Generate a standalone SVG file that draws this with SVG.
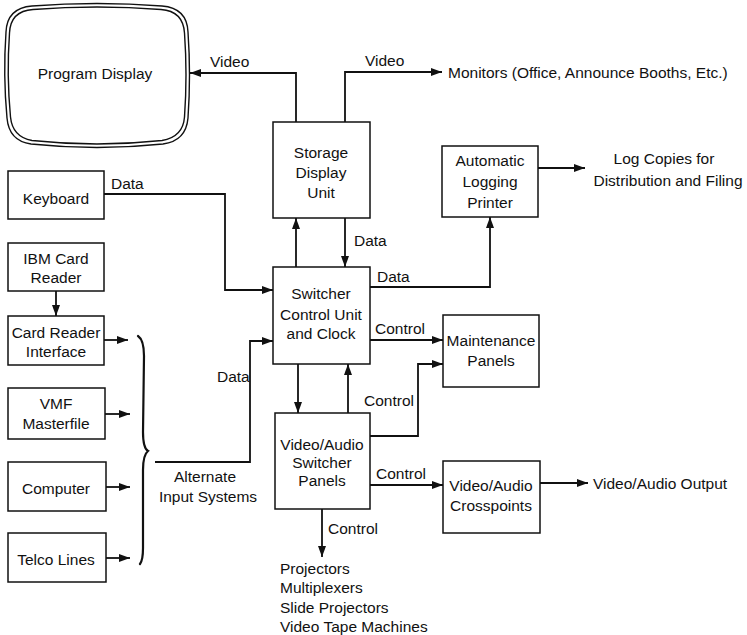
<svg xmlns="http://www.w3.org/2000/svg" width="747" height="635" viewBox="0 0 747 635">
<defs>
<style>
text{font-family:"Liberation Sans",Arial,sans-serif;font-size:15.5px;fill:#111}
.c{text-anchor:middle}
.box{fill:#fff;stroke:#111;stroke-width:1.5}
.tv{fill:none;stroke:#111;stroke-width:1.4}
.ln{fill:none;stroke:#111;stroke-width:1.8}
.br{fill:none;stroke:#111;stroke-width:2.2;stroke-linecap:round}
</style>
<marker id="ah" markerUnits="userSpaceOnUse" markerWidth="12" markerHeight="9" refX="11" refY="4" orient="auto">
<path d="M0,0 L11,4 L0,8 z" fill="#111"/>
</marker>
</defs>
<rect width="747" height="635" fill="#fff"/>

<g id="program-display">
<path class="tv" d="M32,6 Q97,1 162,6 Q187,8 188,32 Q191,75 188,118 Q186,141 163,144 Q97,151 31,144 Q9,141 7,118 Q3,75 6,32 Q7,8 32,6 Z"/>
<path class="tv" d="M33,9.5 Q97,4.5 161,9.5 Q183,11 184.5,33 Q187.5,75 184.5,117 Q183,137 162,140.5 Q97,147.5 32,140.5 Q12.5,137 10.5,117 Q6.5,75 9.5,33 Q10.5,11 33,9.5 Z"/>
<text class="c" x="95" y="79">Program Display</text>
</g>

<g id="storage-display-unit">
<rect class="box" x="273" y="122" width="97" height="96"/>
<text class="c" x="321" y="158">Storage</text>
<text class="c" x="321" y="178">Display</text>
<text class="c" x="321" y="198">Unit</text>
</g>

<g id="logging-printer">
<rect class="box" x="442" y="146" width="96" height="71"/>
<text class="c" x="490" y="166">Automatic</text>
<text class="c" x="490" y="187">Logging</text>
<text class="c" x="490" y="208">Printer</text>
</g>

<g id="keyboard">
<rect class="box" x="8" y="171" width="96" height="48"/>
<text class="c" x="56" y="204">Keyboard</text>
</g>

<g id="ibm-card-reader">
<rect class="box" x="8" y="243" width="96" height="48"/>
<text class="c" x="56" y="264">IBM Card</text>
<text class="c" x="56" y="283">Reader</text>
</g>

<g id="card-reader-interface">
<rect class="box" x="8" y="316" width="96" height="49"/>
<text class="c" x="56" y="338">Card Reader</text>
<text class="c" x="56" y="357">Interface</text>
</g>

<g id="vmf-masterfile">
<rect class="box" x="8" y="388" width="97" height="51"/>
<text class="c" x="56" y="409">VMF</text>
<text class="c" x="56" y="429">Masterfile</text>
</g>

<g id="computer">
<rect class="box" x="8" y="462" width="98" height="49"/>
<text class="c" x="56" y="494">Computer</text>
</g>

<g id="telco-lines">
<rect class="box" x="8" y="533" width="98" height="49"/>
<text class="c" x="56" y="565">Telco Lines</text>
</g>

<g id="switcher-control-unit">
<rect class="box" x="273" y="267" width="97" height="97"/>
<text class="c" x="321" y="299">Switcher</text>
<text class="c" x="321" y="320">Control Unit</text>
<text class="c" x="321" y="339">and Clock</text>
</g>

<g id="maintenance-panels">
<rect class="box" x="443" y="315" width="96" height="72"/>
<text class="c" x="491" y="346">Maintenance</text>
<text class="c" x="491" y="366">Panels</text>
</g>

<g id="switcher-panels">
<rect class="box" x="275" y="413" width="95" height="96"/>
<text class="c" x="322" y="450">Video/Audio</text>
<text class="c" x="322" y="468">Switcher</text>
<text class="c" x="322" y="486">Panels</text>
</g>

<g id="crosspoints">
<rect class="box" x="443" y="461" width="97" height="72"/>
<text class="c" x="491" y="491">Video/Audio</text>
<text class="c" x="491" y="511">Crosspoints</text>
</g>

<g id="connectors">
<path class="ln" d="M296,122 V73 H190" marker-end="url(#ah)"/>
<path class="ln" d="M345,122 V72 H442" marker-end="url(#ah)"/>
<path class="ln" d="M538,168 H585" marker-end="url(#ah)"/>
<path class="ln" d="M296,267 V218" marker-end="url(#ah)"/>
<path class="ln" d="M345,218 V267" marker-end="url(#ah)"/>
<path class="ln" d="M370,287 H490 V217" marker-end="url(#ah)"/>
<path class="ln" d="M104,194 H225 V290 H273" marker-end="url(#ah)"/>
<path class="ln" d="M56,291 V316" marker-end="url(#ah)"/>
<path class="ln" d="M104,340 H128" marker-end="url(#ah)"/>
<path class="ln" d="M105,414 H130" marker-end="url(#ah)"/>
<path class="ln" d="M106,487 H130" marker-end="url(#ah)"/>
<path class="ln" d="M106,558 H130" marker-end="url(#ah)"/>
<path class="br" d="M138,336 Q144,340 144,356 L143,432 Q143,448 148,451 Q143,455 143,470 L143,548 Q143,560 140,564"/>
<path class="ln" d="M155,462 H250 V341 H273" marker-end="url(#ah)"/>
<path class="ln" d="M370,340 H443" marker-end="url(#ah)"/>
<path class="ln" d="M298,364 V413" marker-end="url(#ah)"/>
<path class="ln" d="M348,413 V364" marker-end="url(#ah)"/>
<path class="ln" d="M370,436 H418 V364 H443" marker-end="url(#ah)"/>
<path class="ln" d="M370,485 H443" marker-end="url(#ah)"/>
<path class="ln" d="M540,483 H588" marker-end="url(#ah)"/>
<path class="ln" d="M322,509 V557" marker-end="url(#ah)"/>
</g>

<g id="labels">
<text x="210" y="67">Video</text>
<text x="365" y="66">Video</text>
<text x="448" y="78">Monitors (Office, Announce Booths, Etc.)</text>
<text x="354" y="246">Data</text>
<text x="377" y="282">Data</text>
<text class="c" x="664" y="164">Log Copies for</text>
<text class="c" x="668" y="186">Distribution and Filing</text>
<text x="111" y="189">Data</text>
<text x="217" y="382">Data</text>
<text class="c" x="205" y="482">Alternate</text>
<text class="c" x="208" y="502">Input Systems</text>
<text x="375" y="334">Control</text>
<text x="364" y="406">Control</text>
<text x="376" y="479">Control</text>
<text x="593" y="489">Video/Audio Output</text>
<text x="328" y="534">Control</text>
<text x="280" y="574">Projectors</text>
<text x="280" y="593">Multiplexers</text>
<text x="280" y="613">Slide Projectors</text>
<text x="280" y="632">Video Tape Machines</text>
</g>
</svg>
